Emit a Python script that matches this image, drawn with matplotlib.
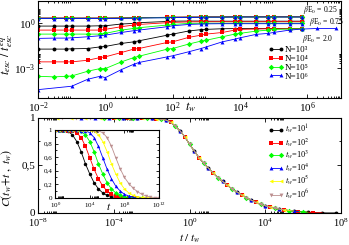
import matplotlib
matplotlib.use("Agg")
import matplotlib.pyplot as plt
import numpy as np
from matplotlib.ticker import FixedLocator, NullFormatter, FuncFormatter

plt.rcParams['font.family'] = ['Liberation Serif', 'DejaVu Serif']
plt.rcParams['mathtext.fontset'] = 'stix'

nan = np.nan

# ---- top panel: log10(t_esc / t_esc^eq) versus t_w
tw = [0.01, 0.03, 0.07, 0.1, 0.3, 0.7, 1, 3, 7, 10, 70, 100, 300, 700,
      1e3, 3e3, 7e3, 1e4, 3e4, 7e4, 1e5, 3e5, 7e5, 2e6, 7e6]

be025 = [
    [0.35, 0.35, 0.35, 0.35, 0.35, 0.35, 0.35, 0.36, 0.37, 0.38, 0.40, 0.41, 0.42,
     0.42, 0.43, 0.43, 0.44, 0.44, 0.44, 0.44, 0.44, 0.44, 0.44, nan, nan],
    [0.34, 0.34, 0.34, 0.34, 0.34, 0.34, 0.34, 0.35, 0.36, 0.37, 0.39, 0.40, 0.41,
     0.41, 0.42, 0.42, 0.43, 0.43, 0.43, 0.43, 0.43, 0.43, 0.43, nan, nan],
    [0.33, 0.33, 0.33, 0.33, 0.33, 0.33, 0.33, 0.34, 0.35, 0.36, 0.38, 0.39, 0.40,
     0.40, 0.41, 0.41, 0.42, 0.42, 0.42, 0.42, 0.42, 0.42, 0.42, nan, nan],
    [0.32, 0.32, 0.32, 0.32, 0.32, 0.32, 0.32, 0.33, 0.34, 0.35, 0.37, 0.38, 0.39,
     0.40, 0.41, 0.41, 0.42, 0.42, 0.42, 0.42, 0.42, 0.42, 0.42, nan, nan],
]
be075 = [
    [-0.19, -0.19, -0.19, -0.19, -0.19, -0.17, -0.17, -0.05, -0.01, 0.04, 0.12, 0.14,
     0.15, 0.15, 0.14, 0.14, 0.14, 0.14, 0.14, 0.14, 0.14, 0.14, 0.14, nan, nan],
    [-0.46, -0.46, -0.46, -0.46, -0.46, -0.46, -0.41, -0.23, -0.12, -0.08, 0.04, 0.06,
     0.09, 0.10, 0.10, 0.10, 0.10, 0.10, 0.10, 0.10, 0.10, 0.10, 0.10, nan, nan],
    [-0.73, -0.73, -0.73, -0.73, -0.73, -0.73, -0.68, -0.46, -0.35, -0.30, -0.12, -0.08,
     -0.01, 0.0, 0.0, 0.0, 0.0, 0.0, 0.0, 0.0, 0.0, 0.0, 0.0, nan, nan],
    [-1.02, -1.00, -1.00, -0.98, -0.91, -0.84, -0.80, -0.62, -0.50, -0.46, -0.23, -0.17,
     -0.08, -0.05, -0.04, -0.03, -0.03, -0.03, -0.03, -0.03, -0.03, -0.03, -0.03, nan, nan],
]
be20 = [
    [-1.74, -1.74, -1.74, -1.72, -1.70, -1.59, -1.56, -1.36, -1.25, -1.18, -0.80, -0.73,
     -0.52, -0.43, -0.41, -0.37, -0.36, -0.36, -0.36, -0.36, -0.36, -0.36, -0.36, nan, nan],
    [-2.60, -2.60, -2.60, -2.60, -2.49, -2.31, -2.26, -1.97, -1.74, -1.70, -1.29, -1.25,
     -0.95, -0.80, -0.73, -0.62, -0.46, -0.41, -0.39, -0.37, -0.37, -0.37, -0.37, nan, nan],
    [-3.57, -3.61, -3.57, -3.55, -3.23, -3.05, -3.05, -2.60, -2.31, -2.22, -1.74, -1.70,
     -1.40, -1.20, -1.14, -0.91, -0.73, -0.68, -0.53, -0.46, -0.41, -0.39, -0.37, nan, nan],
    [-4.47, nan, nan, -4.24, -3.77, -3.57, -3.66, -3.12, -2.76, -2.64, -2.26, -2.19,
     -1.92, -1.70, -1.59, -1.25, -1.07, -0.98, -0.75, -0.68, -0.62, -0.46, -0.39, -0.35, -0.35],
]
n_labels = ['N=10\u00b3', 'N=10\u2074', 'N=10\u2075', 'N=10\u2076']
n_colors = ['#000000', '#ff0000', '#00ff00', '#0000ff']
n_markers = ['o', 's', 'D', '^']

# ---- bottom panel: master curve C versus log10(t/t_w), step 0.25 from -8
ratio_log = np.arange(-8, 8, 0.25)
c_master = [1.0] * 25 + [
    0.99, 0.985, 0.975, 0.95, 0.91, 0.86, 0.80, 0.72, 0.65, 0.58,
    0.52, 0.47, 0.42, 0.37, 0.33, 0.29, 0.25, 0.22, 0.19, 0.16,
    0.135, 0.11, 0.09, 0.075, 0.062, 0.05, 0.04, 0.032, 0.025, 0.02,
    0.014, 0.01, 0.007, 0.004, 0.002, 0.001, 0.0, 0.0, 0.0]
ratio_lo = [-3, -4, -5, -6, -7, -8]
ratio_hi = [7.75, 7.0, 6.25, 5.75, 5.5, 5.0]

tw_labels = ['$t_w$=10$^{%d}$' % k for k in range(1, 7)]
tw_colors = ['#000000', '#ff0000', '#00ff00', '#0000ff', '#ffff00', '#bc8f8f']
tw_markers = ['o', 's', 'D', '^', '<', 'v']

# ---- inset: C versus log10(t), step 0.5 from 0
inset_logt = np.arange(0, 12.5, 0.5)
inset_c = [
    [1.0, 1.0, 0.995, 0.98, 0.93, 0.83, 0.68, 0.50, 0.35, 0.22, 0.13, 0.07, 0.035,
     0.015, 0.005, 0.0, 0.0, 0.0],
    [1.0, 1.0, 1.0, 0.99, 0.99, 0.96, 0.89, 0.76, 0.59, 0.42, 0.28, 0.17, 0.10,
     0.05, 0.025, 0.01, 0.003, 0.0, 0.0, 0.0],
    [1.0, 1.0, 1.0, 1.0, 1.0, 0.995, 0.98, 0.93, 0.83, 0.68, 0.50, 0.35, 0.22,
     0.13, 0.07, 0.035, 0.015, 0.005, 0.0, 0.0, 0.0],
    [1.0, 1.0, 1.0, 1.0, 1.0, 1.0, 0.99, 0.99, 0.96, 0.89, 0.76, 0.59, 0.42,
     0.28, 0.17, 0.10, 0.05, 0.025, 0.01, 0.003, 0.0, 0.0],
    [1.0, 1.0, 1.0, 1.0, 1.0, 1.0, 1.0, 1.0, 0.995, 0.98, 0.93, 0.83, 0.68,
     0.50, 0.35, 0.22, 0.13, 0.07, 0.035, 0.015, 0.005, 0.0, 0.0],
    [1.0, 1.0, 1.0, 1.0, 1.0, 1.0, 1.0, 1.0, 1.0, 0.99, 0.99, 0.96, 0.89,
     0.76, 0.59, 0.43, 0.30, 0.21, 0.14, 0.09, 0.05, 0.025, 0.01, 0.003, 0.0],
]


def comma(v, pos):
    return ('%g' % v).replace('.', ',')


def minors(majors):
    return [m * 10.0 ** k for k in majors for m in range(2, 10)]


def style(ax, size=8, length=3):
    ax.tick_params(which='both', direction='in', top=True, right=True,
                   labelsize=size, pad=2, width=0.6)
    ax.tick_params(which='major', length=length)
    ax.tick_params(which='minor', length=length * 0.6)
    for s in ax.spines.values():
        s.set_linewidth(0.8)


fig = plt.figure(figsize=(3.49, 2.45), dpi=100)
ax1 = fig.add_axes([0.109, 0.602, 0.868, 0.394])
ax2 = fig.add_axes([0.109, 0.131, 0.868, 0.389])
ax3 = fig.add_axes([0.158, 0.193, 0.298, 0.276])

# top panel
tw_arr = np.array(tw)
for group in (be025, be075, be20):
    for i, vals in enumerate(group):
        v = np.array(vals)
        ok = ~np.isnan(v)
        ax1.plot(tw_arr[ok], 10 ** v[ok], color=n_colors[i], marker=n_markers[i],
                 ms=2.8, lw=0.6, mew=0,
                 label=n_labels[i] if group is be20 else None)
ax1.set_xscale('log')
ax1.set_yscale('log')
ax1.set_xlim(1e-2, 1e7)
ax1.set_ylim(1e-5, 10 ** 1.5)
ax1.xaxis.set_major_locator(FixedLocator([1e-2, 1, 1e2, 1e4, 1e6]))
ax1.xaxis.set_minor_locator(FixedLocator(minors([-2, 0, 2, 4, 6])))
ax1.yaxis.set_major_locator(FixedLocator([1e-3, 1]))
ax1.yaxis.set_minor_locator(FixedLocator(minors([-3, 0])))
ax1.xaxis.set_minor_formatter(NullFormatter())
ax1.yaxis.set_minor_formatter(NullFormatter())
style(ax1)
ax1.legend(loc='upper left', bbox_to_anchor=(268 / 349, 1 - 46 / 245),
           bbox_transform=fig.transFigure, frameon=False, fontsize=6.5,
           numpoints=2, handlelength=1.7, handletextpad=0.2, labelspacing=0.05,
           borderpad=0, borderaxespad=0)
fig.text(303 / 349, 1 - 10 / 245, r'$\beta$E$_0$ = 0.25', fontsize=5.5, va='center')
fig.text(309 / 349, 1 - 22 / 245, r'$\beta$E$_0$ = 0.75', fontsize=5.5, va='center')
fig.text(302 / 349, 1 - 39 / 245, r'$\beta$E$_0$ = 2.0', fontsize=5.5, va='center')
fig.text(7 / 349, 1 - 54 / 245, r'$t_{esc}\ /\ t_{esc}^{eq}$', rotation=90,
         ha='center', va='center', fontsize=9)
fig.text(191 / 349, 1 - 107 / 245, r'$t_w$', ha='center', va='center', fontsize=9)

# bottom panel
c_arr = np.array(c_master)
for k in range(6):
    sel = (ratio_log >= ratio_lo[k]) & (ratio_log <= ratio_hi[k])
    idx = np.arange(len(ratio_log))[sel]
    ax2.plot(10 ** ratio_log[sel], c_arr[sel], color=tw_colors[k], lw=0.6,
             marker=tw_markers[k], ms=2.8, mew=0,
             markevery=list(np.where((idx % 3) == (k % 3))[0]),
             label=tw_labels[k])
ax2.set_xscale('log')
ax2.set_xlim(1e-8, 1e8)
ax2.set_ylim(0, 1)
ax2.xaxis.set_major_locator(FixedLocator([1e-8, 1e-4, 1, 1e4, 1e8]))
ax2.xaxis.set_minor_locator(FixedLocator(minors([-8, -4, 0, 4])))
ax2.xaxis.set_minor_formatter(NullFormatter())
ax2.yaxis.set_major_locator(FixedLocator([0, 0.5, 1]))
ax2.yaxis.set_minor_locator(FixedLocator([0.25, 0.75]))
ax2.yaxis.set_major_formatter(FuncFormatter(comma))
style(ax2)
ax2.tick_params(axis='x', pad=3, labelsize=7.5)
ax2.legend(loc='upper left', bbox_to_anchor=(268 / 349, 1 - 123 / 245),
           bbox_transform=fig.transFigure, frameon=False, fontsize=6,
           numpoints=2, handlelength=1.8, handletextpad=0.2, labelspacing=0.0,
           borderpad=0, borderaxespad=0)
fig.text(7 / 349, 1 - 178 / 245, r'$C(t_w\!+\!t\ ,\ t_w)$', rotation=90,
         ha='center', va='center', fontsize=8.5)
fig.text(190 / 349, 1 - 244.5 / 245, r'$t\ /\ t_w$', ha='center', va='bottom', fontsize=8)

# inset
for k in range(6):
    c = inset_c[k]
    ax3.plot(10 ** inset_logt[:len(c)], c, color=tw_colors[k], lw=0.6,
             marker=tw_markers[k], ms=2.5, mew=0)
ax3.set_xscale('log')
ax3.set_xlim(1, 1e12)
ax3.set_ylim(0, 1)
ax3.xaxis.set_major_locator(FixedLocator([1, 1e4, 1e8, 1e12]))
ax3.xaxis.set_minor_locator(FixedLocator(minors([0, 4, 8])))
ax3.xaxis.set_minor_formatter(NullFormatter())
ax3.yaxis.set_major_locator(FixedLocator([0, 0.2, 0.4, 0.6, 0.8, 1]))
ax3.yaxis.set_minor_locator(FixedLocator([0.1, 0.3, 0.5, 0.7, 0.9]))
ax3.yaxis.set_major_formatter(FuncFormatter(comma))
style(ax3, size=5, length=2.5)
fig.text(109 / 349, 1 - 206 / 245, r'$t$', ha='center', va='center', fontsize=8)

fig.savefig('out.png', dpi=100)
